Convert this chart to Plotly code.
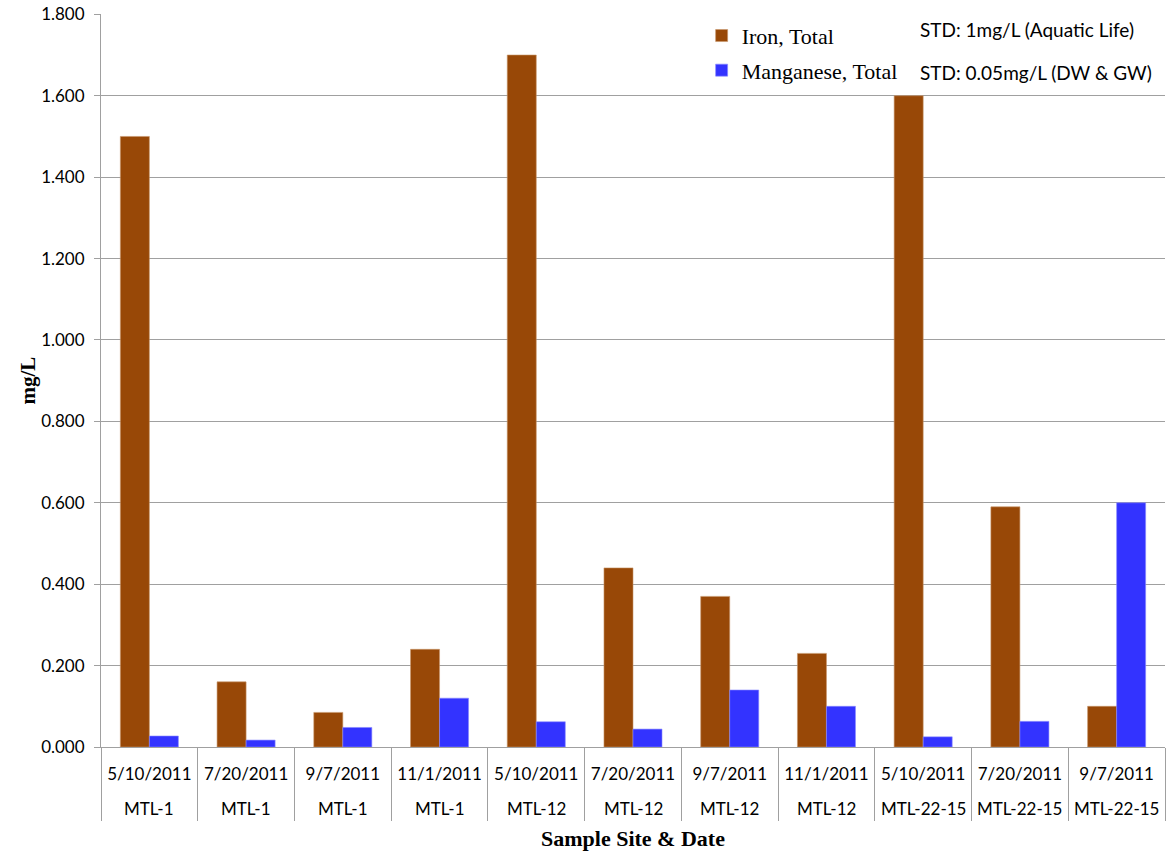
import plotly.graph_objects as go

dates = ["5/10/2011", "7/20/2011", "9/7/2011", "11/1/2011",
         "5/10/2011", "7/20/2011", "9/7/2011", "11/1/2011",
         "5/10/2011", "7/20/2011", "9/7/2011"]
sites = ["MTL-1", "MTL-1", "MTL-1", "MTL-1",
         "MTL-12", "MTL-12", "MTL-12", "MTL-12",
         "MTL-22-15", "MTL-22-15", "MTL-22-15"]
iron = [1.500, 0.160, 0.085, 0.240, 1.700, 0.440, 0.370, 0.230, 1.600, 0.590, 0.100]
manganese = [0.027, 0.017, 0.048, 0.120, 0.062, 0.044, 0.140, 0.100, 0.025, 0.063, 0.600]
std_notes = ["STD: 1mg/L (Aquatic Life)", "STD: 0.05mg/L (DW & GW)"]
y_ticks = [0.0, 0.2, 0.4, 0.6, 0.8, 1.0, 1.2, 1.4, 1.6, 1.8]

idx = list(range(len(dates)))
SANS = "Lato, Calibri, 'Open Sans', sans-serif"
SERIF = "'Liberation Serif', 'Times New Roman', serif"
GRAY = "#a0a0a0"

fig = go.Figure()
fig.add_trace(go.Bar(x=idx, y=iron, name="Iron, Total", marker_color="#984807",
                     marker_line=dict(color="#c8956a", width=0.6), legendgroup="a"))
fig.add_trace(go.Bar(x=idx, y=manganese, name="Manganese, Total", marker_color="#3333ff",
                     marker_line=dict(color="#8a8aff", width=0.6), legendgroup="b"))

annotations = []
for i, s in enumerate(sites):
    annotations.append(dict(x=i, y=0, xref="x", yref="paper", text=s, showarrow=False,
                            yanchor="middle", yshift=-61, font=dict(family=SANS, size=17, color="#000")))
annotations.append(dict(x=0.5, y=0, xref="paper", yref="paper", text="<b>Sample Site & Date</b>",
                        showarrow=False, yanchor="middle", yshift=-91,
                        font=dict(family=SERIF, size=22, color="#000")))
annotations.append(dict(x=0, y=0.5, xref="paper", yref="paper", text="<b>mg/L</b>", textangle=-90,
                        showarrow=False, xanchor="center", xshift=-74,
                        font=dict(family=SERIF, size=21, color="#000")))
for k, t in enumerate(std_notes):
    annotations.append(dict(x=0.768, y=1, xref="paper", yref="paper", text=t, showarrow=False,
                            xanchor="left", yanchor="middle", yshift=-15 - 43 * k,
                            font=dict(family=SANS, size=19, color="#000")))

fig.update_layout(
    width=1169, height=854,
    margin=dict(l=101, r=4, t=14, b=107),
    paper_bgcolor="white", plot_bgcolor="white",
    barmode="group", bargap=0.4, bargroupgap=0,
    showlegend=True,
    legend=dict(x=0.5645, y=0.999, xanchor="left", yanchor="top", bgcolor="white",
                font=dict(family=SERIF, size=22, color="#000"),
                traceorder="grouped", tracegroupgap=3, itemwidth=30),
    xaxis=dict(range=[-0.5, len(dates) - 0.5], tickmode="array", tickvals=idx, ticktext=dates,
               ticks="", showgrid=False, zeroline=False, showline=True, linecolor=GRAY, linewidth=1,
               ticklabelstandoff=12,
               tickfont=dict(family=SANS, size=17, color="#000"),
               minor=dict(ticks="outside", tick0=0.5, dtick=1, ticklen=73, tickcolor=GRAY,
                          tickwidth=1, showgrid=False)),
    yaxis=dict(range=[0, 1.8008], tickmode="array", tickvals=y_ticks,
               ticktext=[f"{v:.3f}" for v in y_ticks],
               ticks="outside", ticklen=6, tickcolor=GRAY, showgrid=True, gridcolor=GRAY,
               gridwidth=1, zeroline=False, showline=True, linecolor=GRAY, linewidth=1,
               ticklabelstandoff=6, ticklabeloverflow="allow",
               tickfont=dict(family=SANS, size=17, color="#000")),
    annotations=annotations,
)

fig.write_html("out.html", config={"displayModeBar": False},
               post_script="document.body.style.margin='0px';document.body.style.padding='0px';")
